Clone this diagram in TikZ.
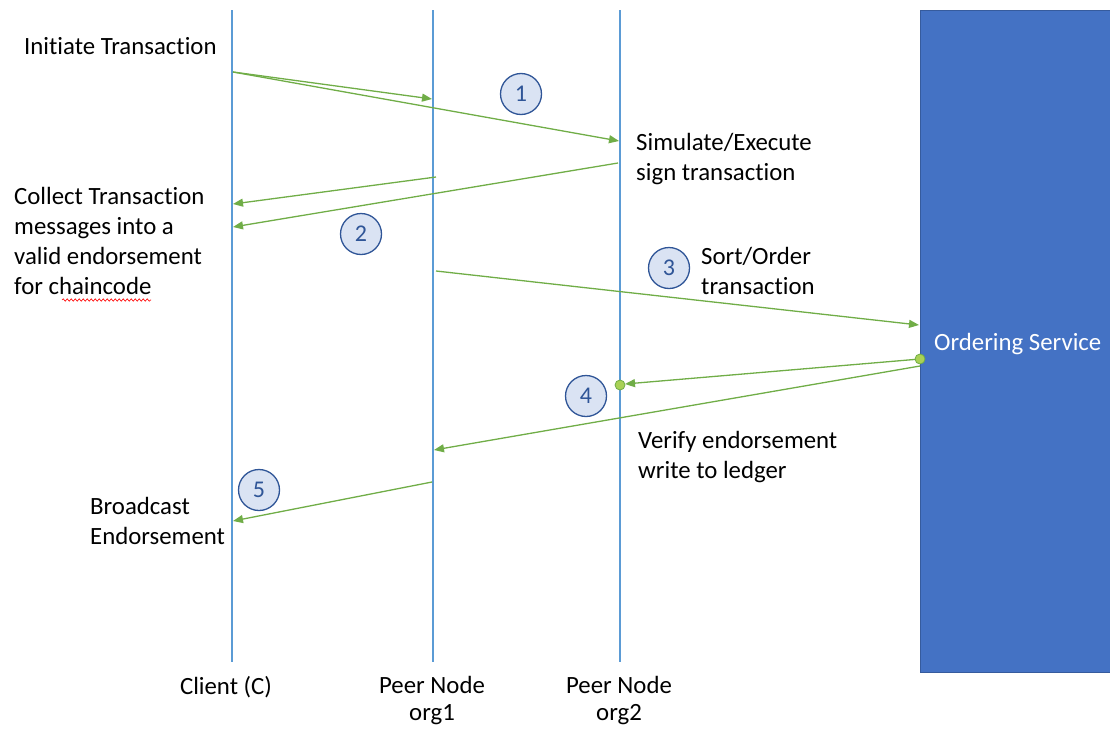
\documentclass[tikz,border=0pt]{standalone}
\usepackage{fontspec}
\setmainfont[Ligatures=NoCommon]{Carlito}
\usetikzlibrary{arrows.meta,decorations.pathmorphing}
\definecolor{life}{RGB}{91,155,213}
\definecolor{svc}{RGB}{68,114,196}
\definecolor{msg}{RGB}{112,173,71}
\definecolor{dotc}{RGB}{169,209,86}
\definecolor{numfill}{RGB}{218,227,243}
\definecolor{numline}{RGB}{47,85,151}
\tikzset{
  lifeline/.style={draw=life,line width=2.6pt},
  msgarrow/.style={draw=msg,line width=1.3pt,-{Triangle[length=10pt,width=8pt]}},
  numcirc/.style={circle,draw=numline,fill=numfill,line width=1.3pt,minimum size=41pt,inner sep=0pt,text=numline,font=\fontsize{24pt}{26pt}\selectfont},
  lbl/.style={align=left,font=\fontsize{24.8pt}{30pt}\selectfont,inner sep=0pt},
  clbl/.style={align=center,font=\fontsize{24.8pt}{27pt}\selectfont,inner sep=0pt},
  enddot/.style={circle,draw=msg,fill=dotc,line width=0.8pt,minimum size=10pt,inner sep=0pt}
}
\begin{document}
\begin{tikzpicture}[x=1pt,y=-1pt]
\useasboundingbox (0,0) rectangle (1110,728);
% ordering service
\node[rectangle,fill=svc,draw=svc!80!black,line width=0.5pt,minimum width=190pt,minimum height=662pt,anchor=north west,inner sep=0pt] (os) at (920,10) {};
\node[text=white,font=\fontsize{24.8pt}{28pt}\selectfont,anchor=base west,inner sep=0pt] (ostxt) at (934,350) {Ordering Service};
% lifelines
\coordinate (c0) at (232,10); \coordinate (c1) at (232,662);
\coordinate (p0) at (433,10); \coordinate (p1) at (433,662);
\coordinate (q0) at (620,10); \coordinate (q1) at (620,662);
\draw[lifeline] (c0) -- (c1);
\draw[lifeline] (p0) -- (p1);
\draw[lifeline] (q0) -- (q1);
% message endpoints
\coordinate (m1s) at (233,72);
\coordinate (m1a) at (432,99);
\coordinate (m1b) at (619,141);
\coordinate (m2as) at (436,177);
\coordinate (m2ae) at (233,204);
\coordinate (m2bs) at (618,163);
\coordinate (m2be) at (233,227);
\coordinate (m3s) at (436,271);
\coordinate (m3e) at (919,325);
\coordinate (m4s) at (920,359);
\coordinate (m4ae) at (625,384);
\coordinate (m4d) at (620,385);
\coordinate (m4bs) at (920,366);
\coordinate (m4be) at (434,450);
\coordinate (m5s) at (432,482);
\coordinate (m5e) at (233,521);
\draw[msgarrow] (m1s) -- (m1a);
\draw[msgarrow] (m1s) -- (m1b);
\draw[msgarrow] (m2as) -- (m2ae);
\draw[msgarrow] (m2bs) -- (m2be);
\draw[msgarrow] (m3s) -- (m3e);
\draw[msgarrow] (m4s) -- (m4ae);
\draw[msgarrow] (m4bs) -- (m4be);
\draw[msgarrow] (m5s) -- (m5e);
\node[enddot] (d1) at (m4s) {};
\node[enddot] (d2) at (m4d) {};
% numbered circles
\node[numcirc] (n1) at (521,94) {1};
\node[numcirc] (n2) at (361,234) {2};
\node[numcirc] (n3) at (669,268) {3};
\node[numcirc] (n4) at (586,396) {4};
\node[numcirc] (n5) at (259,490) {5};
% labels
\node[lbl,anchor=north west] (t1) at (24,37) {Initiate Transaction};
\node[lbl,anchor=north west] (t2) at (14,187) {Collect Transaction\\messages into a\\valid endorsement\\for chaincode};
\node[lbl,anchor=north west] (t3) at (636,133) {Simulate/Execute\\sign transaction};
\node[lbl,anchor=north west] (t4) at (701,247) {Sort/Order\\transaction};
\node[lbl,anchor=north west] (t5) at (638,431) {Verify endorsement\\write to ledger};
\node[lbl,anchor=north west] (t6) at (90,497) {Broadcast\\Endorsement};
\node[clbl,anchor=north] (b1) at (226,676) {Client (C)};
\node[clbl,anchor=north] (b2) at (432,676) {Peer Node\\org1};
\node[clbl,anchor=north] (b3) at (619,676) {Peer Node\\org2};
% spell-check squiggle
\coordinate (sq0) at (62,300); \coordinate (sq1) at (151,300);
\draw[red,line width=0.6pt,decorate,decoration={snake,amplitude=1.2pt,segment length=4pt}] (sq0) -- (sq1);
\end{tikzpicture}
\end{document}
